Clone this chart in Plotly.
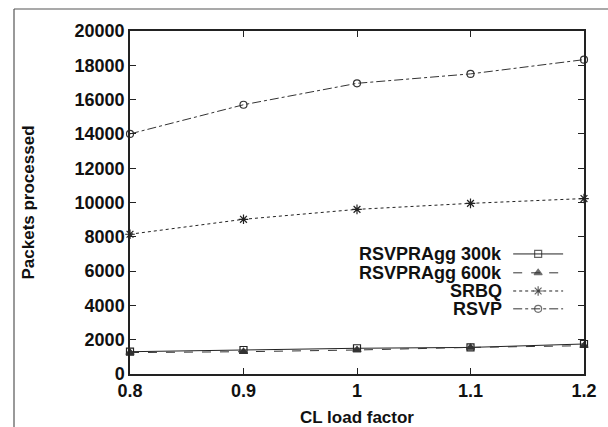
import plotly.graph_objects as go

# CL load factor on the x axis
load_factor = [0.8, 0.9, 1.0, 1.1, 1.2]

# Packets processed per scheme
rsvpragg_300k = [1300, 1400, 1500, 1550, 1750]
rsvpragg_600k = [1250, 1300, 1400, 1550, 1650]
srbq = [8150, 9020, 9600, 9950, 10230]
rsvp = [14000, 15700, 16950, 17500, 18330]

series_names = ["RSVPRAgg 300k", "RSVPRAgg 600k", "SRBQ", "RSVP"]
series_values = [rsvpragg_300k, rsvpragg_600k, srbq, rsvp]

x_ticks = [0.8, 0.9, 1, 1.1, 1.2]
x_tick_text = ["0.8", "0.9", "1", "1.1", "1.2"]
y_ticks = list(range(0, 20001, 2000))

styles = [
    dict(dash="solid", symbol="square-open", size=7, color="#222222"),
    dict(dash="dash", symbol="triangle-up", size=7, color="#333333"),
    dict(dash="dot", symbol="asterisk-open", size=8, color="#222222"),
    dict(dash="dashdot", symbol="circle-open", size=7, color="#333333"),
]

FONT = "Liberation Sans, Arial, sans-serif"

fig = go.Figure()
for name, vals, st in zip(series_names, series_values, styles):
    fig.add_trace(go.Scatter(
        x=load_factor, y=vals, name=name, mode="lines+markers",
        line=dict(color=st["color"], width=1, dash=st["dash"]),
        marker=dict(symbol=st["symbol"], size=st["size"], color=st["color"],
                    line=dict(color=st["color"], width=1.2)),
        showlegend=False, cliponaxis=False,
    ))

# Key drawn on an overlay axis (0..1 across the plot area) so the text sits
# left of each sample, gnuplot style
key_x = [0.844, 0.899, 0.954]
key_rows = [0.350, 0.295, 0.242, 0.190]
for name, st, ky in zip(series_names, styles, key_rows):
    fig.add_trace(go.Scatter(
        x=key_x, y=[ky] * 3, mode="lines+markers",
        xaxis="x2", yaxis="y2", showlegend=False, hoverinfo="skip",
        line=dict(color=st["color"], width=1, dash=st["dash"]),
        marker=dict(symbol=st["symbol"], size=[0, st["size"], 0], color=st["color"],
                    line=dict(color=st["color"], width=1.2)),
    ))
    fig.add_annotation(
        x=key_x[0], y=ky, xref="x2", yref="y2", text="<b>%s</b>" % name,
        showarrow=False, xanchor="right", yanchor="middle", xshift=-9,
        font=dict(family=FONT, size=18, color="#111111"),
    )

axis_common = dict(
    showgrid=False, zeroline=False, showline=True, linecolor="#222222",
    linewidth=1.5, mirror="ticks", ticks="inside", ticklen=6,
    tickcolor="#222222", tickwidth=1.2,
    tickfont=dict(family=FONT, size=18, color="#111111"),
)

fig.update_layout(
    width=608, height=427,
    margin=dict(l=130, r=24, t=31, b=53, autoexpand=False),
    paper_bgcolor="white", plot_bgcolor="white",
    font=dict(family=FONT, color="#111111"),
    xaxis=dict(
        range=[0.8, 1.2], tickvals=x_ticks, ticktext=["<b>%s</b>" % t for t in x_tick_text],
        title=dict(text="<b>CL load factor</b>", font=dict(family=FONT, size=17), standoff=19),
        automargin=False, **axis_common,
    ),
    yaxis=dict(
        range=[0, 20000], tickvals=y_ticks, ticktext=["<b>%d</b>" % v for v in y_ticks],
        title=dict(text="<b>Packets processed</b>", font=dict(family=FONT, size=17), standoff=36),
        automargin=False, **axis_common,
    ),
    xaxis2=dict(range=[0, 1], visible=False, overlaying="x", anchor="y2"),
    yaxis2=dict(range=[0, 1], visible=False, overlaying="y", anchor="x2"),
    shapes=[
        dict(type="line", xref="paper", yref="paper", x0=-0.2555, x1=-0.2555,
             y0=-0.2, y1=1.0641, line=dict(color="#555555", width=1.2)),
        dict(type="line", xref="paper", yref="paper", x0=-0.2555, x1=1.1,
             y0=1.0641, y1=1.0641, line=dict(color="#555555", width=1.2)),
    ],
)

fig.write_html("out.html")
